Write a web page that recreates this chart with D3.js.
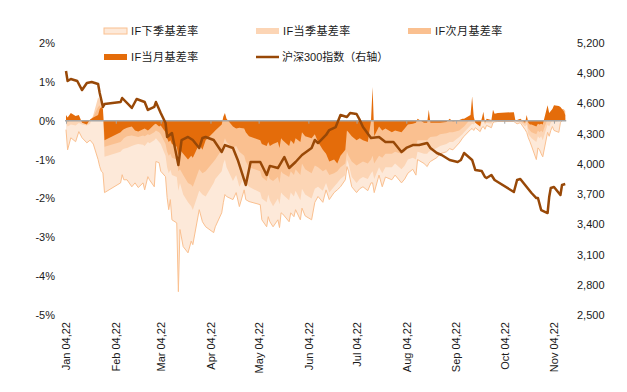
<!DOCTYPE html>
<html>
<head>
<meta charset="utf-8">
<script src="https://cdn.jsdelivr.net/npm/d3@7"></script>
<style>
  body { margin: 0; background: #fff; }
  svg { display: block; }
  text { font-family: "Liberation Sans", Arial, "Noto Sans CJK SC", sans-serif; fill: #1a1a1a; }
  .legend text { font-family: "Liberation Sans", "Noto Sans CJK SC", sans-serif; }
</style>
</head>
<body>
<svg width="627" height="392"></svg>
<script>
// basis dates (2022) and the four basis series, in %
const basisDates = [
  "01-04","01-05","01-07","01-10","01-12","01-14","01-17","01-19","01-21","01-24","01-25","01-26","01-27","01-28",
  "02-07","02-08","02-09","02-11","02-14","02-16","02-18","02-21","02-22","02-24","02-25","02-28",
  "03-01","03-03","03-04","03-07","03-08","03-09","03-10","03-11","03-14","03-15","03-16","03-18","03-21","03-23","03-24","03-28","03-30",
  "04-01","04-06","04-07","04-11","04-12","04-13","04-14","04-18","04-20","04-22","04-25","04-26","04-28",
  "05-05","05-06","05-09","05-10","05-11","05-13","05-16","05-17","05-18","05-19","05-23","05-24","05-26","05-27","05-30","05-31",
  "06-02","06-06","06-08","06-10","06-13","06-15","06-17","06-20","06-22","06-24","06-27","06-28","06-29",
  "07-01","07-04","07-06","07-08","07-11","07-13","07-14","07-15","07-18","07-20","07-22","07-26","07-28",
  "08-01","08-03","08-05","08-08","08-10","08-11","08-15","08-17","08-18","08-19","08-23","08-25","08-29","08-31",
  "09-02","09-06","09-08","09-09","09-13","09-14","09-15","09-16","09-19","09-20","09-21","09-22","09-23","09-26","09-27","09-28","09-30",
  "10-10","10-11","10-12","10-14","10-17","10-18","10-19","10-20","10-21","10-24","10-25","10-26","10-27","10-28","10-31",
  "11-01","11-02","11-03","11-04","11-07","11-08","11-09","11-10","11-11"
];
// IF下季基差率
const nextQuarter = [
  -0.23,-0.75,-0.44,-0.54,-0.28,-0.44,-0.57,-0.50,-0.60,-1.00,-1.18,-1.30,-1.34,-1.85,
  -1.60,-1.39,-1.52,-1.52,-1.70,-1.60,-1.72,-1.60,-1.78,-1.44,-1.52,-1.70,
  -1.05,-1.08,-1.30,-1.44,-1.98,-2.29,-2.03,-2.55,-2.63,-4.40,-2.80,-3.24,-3.40,-3.10,-3.19,-2.29,-2.60,
  -2.73,-2.88,-2.73,-2.37,-2.11,-1.90,-1.95,-2.03,-1.85,-2.21,-1.78,-2.03,-2.08,
  -2.16,-2.55,-2.73,-2.47,-2.60,-2.73,-2.55,-2.75,-2.37,-2.40,-2.60,-2.37,-2.47,-2.29,-2.55,-2.25,
  -2.45,-2.55,-2.10,-1.95,-2.10,-1.78,-2.03,-1.85,-1.78,-1.70,-1.52,-1.18,-1.30,
  -1.70,-1.85,-1.75,-1.70,-1.80,-1.60,-1.60,-1.85,-1.40,-1.70,-1.45,-1.52,-1.40,
  -1.60,-1.50,-1.35,-1.25,-1.40,-1.00,-1.10,-1.18,-1.10,-1.05,-0.95,-0.85,-0.80,-0.72,
  -0.75,-0.57,-0.45,-0.40,-0.23,-0.20,-0.25,-0.18,-0.28,-0.18,-0.15,-0.22,-0.12,-0.18,-0.05,-0.03,-0.02,
  -0.02,-0.05,-0.08,-0.05,-0.23,-0.30,-0.44,-0.54,-0.65,-1.00,-0.70,-0.75,-0.85,-0.93,-0.30,
  -0.40,-0.25,-0.15,-0.25,-0.30,-0.05,0.00,0.05,0.05
];
// IF当季基差率
const currQuarter = [
  -0.05,-0.15,-0.10,-0.12,-0.06,-0.10,-0.12,-0.08,0.15,0.60,0.55,0.45,0.40,-0.93,
  -0.80,-0.75,-0.72,-0.70,-0.65,-0.62,-0.60,-0.62,-0.65,-0.55,-0.58,-0.50,
  -0.45,-0.55,-0.60,-0.90,-1.20,-1.35,-1.26,-1.40,-1.45,-1.80,-1.60,-1.90,-2.10,-2.20,-2.30,-1.80,-1.90,
  -1.95,-1.60,-1.50,-1.30,-1.10,-1.00,-1.20,-1.55,-1.40,-1.70,-1.45,-1.60,-1.70,
  -1.85,-2.00,-2.10,-1.90,-2.05,-2.20,-2.00,-2.15,-1.85,-1.90,-2.05,-1.85,-1.95,-1.80,-2.05,-1.75,
  -1.90,-2.00,-1.75,-1.70,-1.80,-1.60,-1.85,-1.70,-1.60,-1.50,-1.40,-1.00,-1.10,
  -1.45,-1.60,-1.50,-1.45,-1.50,-1.35,-1.30,-1.50,-1.20,-1.35,-1.20,-1.20,-1.10,
  -1.25,-1.15,-1.00,-0.95,-1.00,-0.80,-0.85,-0.85,-0.80,-0.78,-0.70,-0.65,-0.60,-0.55,
  -0.55,-0.42,-0.35,-0.30,-0.12,-0.08,-0.10,-0.05,-0.15,-0.05,0.00,-0.10,-0.05,-0.08,0.02,0.03,0.02,
  0.02,-0.02,-0.04,-0.03,-0.15,-0.10,-0.35,-0.40,-0.45,-0.55,-0.40,-0.45,-0.40,-0.50,-0.10,
  -0.15,-0.05,0.00,-0.05,0.00,0.10,0.15,0.20,0.15
];
// IF次月基差率
const nextMonth = [
  0.05,-0.05,0.05,0.02,0.05,-0.04,-0.08,0.02,0.10,0.35,0.40,0.30,0.25,-0.67,
  -0.55,-0.50,-0.45,-0.40,-0.38,-0.40,-0.42,-0.38,-0.40,-0.35,-0.37,-0.30,
  -0.25,-0.30,-0.35,-0.60,-0.80,-0.90,-0.85,-0.95,-1.00,-1.30,-1.25,-1.40,-1.60,-1.65,-1.70,-1.25,-1.35,
  -1.30,-1.05,-1.00,-0.75,-0.60,-0.45,-0.55,-0.70,-0.65,-0.80,-0.90,-1.05,-1.20,
  -1.30,-1.45,-1.55,-1.40,-1.50,-1.55,-1.45,-1.60,-1.30,-1.35,-1.45,-1.30,-1.40,-1.25,-1.40,-1.10,
  -1.25,-1.35,-1.15,-1.20,-1.30,-1.25,-1.40,-1.35,-1.30,-1.20,-1.10,-0.80,-0.90,
  -1.05,-1.15,-1.10,-1.05,-1.10,-1.00,-0.90,-1.10,-0.90,-0.95,-0.85,-0.85,-0.80,
  -0.85,-0.80,-0.65,-0.60,-0.65,-0.50,-0.50,-0.50,-0.45,-0.42,-0.40,-0.35,-0.32,-0.30,
  -0.30,-0.25,-0.18,-0.15,0.05,0.30,0.05,-0.05,-0.10,0.05,0.10,-0.05,0.02,-0.03,0.10,0.10,0.10,
  0.10,0.00,-0.02,-0.02,-0.08,0.05,-0.20,-0.25,-0.30,-0.35,-0.25,-0.30,-0.25,-0.30,0.05,
  0.05,0.10,0.15,0.15,0.20,0.25,0.30,0.30,0.25
];
// IF当月基差率
const currMonth = [
  0.15,0.08,0.20,0.12,0.15,-0.05,-0.10,0.03,0.08,0.15,0.30,0.35,0.30,-0.50,
  -0.30,-0.25,-0.22,-0.18,-0.15,-0.25,-0.28,-0.22,-0.20,-0.25,-0.22,-0.10,
  -0.08,-0.15,-0.12,-0.30,-0.45,-0.55,-0.50,-0.60,-0.67,-0.90,-0.75,-0.85,-1.00,-0.90,-0.95,-0.60,-0.75,
  -0.50,-0.30,-0.25,-0.10,0.10,0.20,0.05,-0.15,-0.20,-0.18,-0.20,-0.30,-0.40,
  -0.50,-0.60,-0.65,-0.55,-0.65,-0.60,-0.55,-0.70,-0.45,-0.50,-0.65,-0.50,-0.60,-0.45,-0.55,-0.30,
  -0.40,-0.45,-0.35,-0.55,-0.75,-0.85,-1.05,-1.00,-1.10,-0.90,-0.75,-0.25,-0.30,
  -0.40,-0.50,-0.45,-0.50,-0.55,0.00,0.87,-0.40,-0.15,-0.25,-0.20,-0.30,-0.25,
  -0.30,-0.20,-0.10,-0.08,-0.05,0.05,-0.05,-0.05,0.28,-0.05,-0.05,-0.05,-0.03,0.05,
  -0.02,0.02,0.05,0.05,0.15,0.62,0.10,-0.05,-0.15,0.05,0.23,-0.05,0.05,0.02,0.28,0.18,0.20,
  0.22,0.00,0.02,0.05,-0.05,0.15,-0.05,-0.10,-0.10,-0.15,-0.08,-0.10,-0.08,-0.10,0.40,
  0.20,0.25,0.30,0.40,0.38,0.35,0.30,0.25,0.15
];

// 沪深300指数 (right axis)
const indexDates = [
  "01-04","01-05","01-07","01-11","01-14","01-17","01-20","01-24","01-25","01-27","01-28",
  "02-07","02-08","02-14","02-17","02-22","02-24","02-28",
  "03-01","03-04","03-07","03-08","03-11","03-15","03-17","03-21","03-24","03-28","03-30",
  "04-01","04-06","04-11","04-13","04-18","04-21","04-26","04-29",
  "05-05","05-09","05-11","05-16","05-20","05-23","05-27","05-31",
  "06-06","06-08","06-10","06-15","06-17","06-21","06-24","06-28","06-30",
  "07-04","07-06","07-08","07-13","07-18","07-22","07-27",
  "08-01","08-04","08-08","08-12","08-17","08-19","08-23","08-26","08-31",
  "09-05","09-07","09-09","09-14","09-16","09-20","09-22","09-23","09-26","09-28","09-30",
  "10-10","10-12","10-14","10-18","10-21","10-24","10-25","10-27","10-31",
  "11-01","11-02","11-04","11-08","11-09","11-11"
];
const csi300 = [
  4922,4823,4843,4823,4733,4803,4813,4793,4704,4565,4594,
  4614,4654,4555,4644,4614,4535,4565,
  4614,4505,4406,4267,4307,3989,4237,4267,4237,4158,4257,
  4267,4237,4118,4187,4158,4039,3791,4019,
  4019,3890,3980,3959,4068,3959,4019,4088,
  4158,4237,4207,4287,4336,4366,4485,4465,4505,
  4495,4436,4366,4257,4267,4217,4217,
  4118,4158,4187,4187,4207,4158,4108,4088,4039,
  4019,4039,4108,4039,3939,3929,3870,3860,3890,3840,3820,
  3721,3840,3850,3771,3711,3661,3661,3542,3512,
  3671,3761,3771,3691,3790,3800
];

const leftTicks = [-5, -4, -3, -2, -1, 0, 1, 2];
const rightTicks = [2500, 2800, 3100, 3400, 3700, 4000, 4300, 4600, 4900, 5200];
const monthTicks = ["01-04","02-04","03-04","04-04","05-04","06-04","07-04","08-04","09-04","10-04","11-04"];

const seriesNames = ["IF下季基差率", "IF当季基差率", "IF次月基差率", "IF当月基差率"];
const seriesColors = ["#fde9d9", "#fcd5b5", "#fac090", "#e46c0a"];
const lineName = "沪深300指数（右轴）";

const parse = d3.timeParse("%Y-%m-%d");
const toDate = s => parse("2022-" + s);

const svg = d3.select("svg");

const x = d3.scaleTime()
  .domain([toDate(monthTicks[0]), toDate(monthTicks[monthTicks.length - 1])])
  .range([66, 554]);
const yL = d3.scaleLinear().domain([-5, 2]).range([315, 43]);
const yR = d3.scaleLinear().domain([2500, 5200]).range([315, 43]);

const bDates = basisDates.map(toDate);
const allSeries = [nextQuarter, currQuarter, nextMonth, currMonth];

// areas, farthest contract at the back
allSeries.forEach((vals, i) => {
  const pts = vals.map((v, j) => [bDates[j], v]);
  svg.append("path")
    .datum(pts)
    .attr("fill", seriesColors[i])
    .attr("d", d3.area().x(d => x(d[0])).y0(yL(0)).y1(d => yL(d[1])));
  if (i === 0) {
    svg.append("path")
      .datum(pts)
      .attr("fill", "none")
      .attr("stroke", "#fac090")
      .attr("stroke-width", 1)
      .attr("d", d3.line().x(d => x(d[0])).y(d => yL(d[1])));
  }
});

// zero line with month ticks
svg.append("line")
  .attr("x1", x(bDates[0]) - 1)
  .attr("x2", x(bDates[bDates.length - 1]) + 1)
  .attr("y1", yL(0))
  .attr("y2", yL(0))
  .attr("stroke", "#a6a6a6")
  .attr("stroke-width", 1.5);

const tickAxis = svg.append("g")
  .attr("transform", `translate(0,${yL(0)})`)
  .call(d3.axisBottom(x).tickValues(monthTicks.map(toDate)).tickSize(3).tickFormat(""));
tickAxis.select(".domain").remove();
tickAxis.selectAll("line").attr("stroke", "#a6a6a6");

// index line
svg.append("path")
  .datum(csi300.map((v, j) => [toDate(indexDates[j]), v]))
  .attr("fill", "none")
  .attr("stroke", "#984807")
  .attr("stroke-width", 2.5)
  .attr("stroke-linejoin", "round")
  .attr("d", d3.line().x(d => x(d[0])).y(d => yR(d[1])));

// left axis
const gl = svg.append("g")
  .attr("transform", "translate(55,0)")
  .call(d3.axisLeft(yL).tickValues(leftTicks).tickSize(0).tickPadding(0).tickFormat(d => d + "%"));
gl.select(".domain").remove();

// right axis
const gr = svg.append("g")
  .attr("transform", "translate(577,0)")
  .call(d3.axisRight(yR).tickValues(rightTicks).tickSize(0).tickPadding(0).tickFormat(d3.format(",")));
gr.select(".domain").remove();

// x labels
const gx = svg.append("g")
  .attr("transform", "translate(0,320)")
  .call(d3.axisBottom(x).tickValues(monthTicks.map(toDate)).tickSize(0).tickFormat(d3.timeFormat("%b %d,%y")));
gx.select(".domain").remove();
gx.selectAll("text")
  .attr("transform", "rotate(-90)")
  .attr("x", -2)
  .attr("y", 0)
  .attr("dy", "0.35em")
  .attr("text-anchor", "end");

svg.selectAll(".tick text").attr("font-size", 11).attr("fill", "#1a1a1a")
  .attr("font-family", "'Liberation Sans', Arial, sans-serif");

// legend
const legendPos = [[104, 31], [256, 31], [408, 31], [104, 57]];
const legend = svg.append("g").attr("class", "legend");
seriesNames.forEach((name, i) => {
  const [lx, ly] = legendPos[i];
  legend.append("rect")
    .attr("x", lx).attr("y", ly - 3).attr("width", 23).attr("height", 6)
    .attr("fill", seriesColors[i])
    .attr("stroke", i === 0 ? "#fac090" : "none");
  legend.append("text")
    .attr("x", lx + 27).attr("y", ly).attr("dy", "0.35em")
    .attr("font-size", 11).attr("letter-spacing", 0.4).text(name);
});
legend.append("line")
  .attr("x1", 256).attr("x2", 279).attr("y1", 57).attr("y2", 57)
  .attr("stroke", "#984807").attr("stroke-width", 2.5);
legend.append("text")
  .attr("x", 282).attr("y", 57).attr("dy", "0.35em")
  .attr("font-size", 11).text(lineName);
</script>
</body>
</html>
